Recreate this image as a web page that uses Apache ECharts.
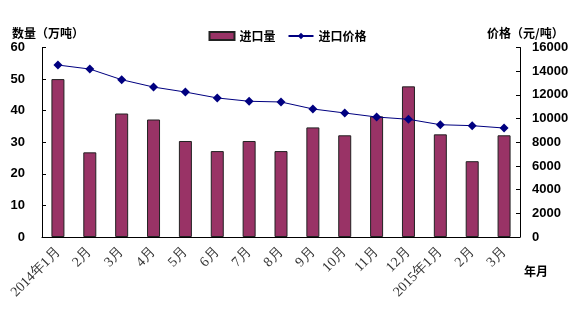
<!DOCTYPE html>
<html><head><meta charset="utf-8">
<script src="https://cdn.jsdelivr.net/npm/echarts@6/dist/echarts.min.js"></script>
<style>html,body{margin:0;padding:0;background:#fff}#c{width:575px;height:320px}</style>
</head><body><div id="c"></div>
<script>
var categories = ['2014年1月','2月','3月','4月','5月','6月','7月','8月','9月','10月','11月','12月','2015年1月','2月','3月'];
var importVolume = [50, 26.8, 39.1, 37.2, 30.4, 27.2, 30.4, 27.2, 34.7, 32.2, 38.2, 47.7, 32.5, 24.0, 32.2];
var importPrice = [14520, 14180, 13280, 12660, 12240, 11740, 11460, 11400, 10810, 10470, 10130, 9940, 9480, 9400, 9200];
var leftTicks = {min: 0, max: 60, interval: 10};
var rightTicks = {min: 0, max: 16000, interval: 2000};

var chart = echarts.init(document.getElementById('c'), null, {renderer: 'canvas'});
var cjk = '"Noto Sans CJK SC", sans-serif';
chart.setOption({
  animation: false,
  backgroundColor: '#fff',
  grid: {left: 42, right: 55, top: 47.5, bottom: 83, containLabel: false},
  legend: {
    top: 25, left: 'center', itemGap: 12,
    itemWidth: 25, itemHeight: 8,
    textStyle: {fontFamily: cjk, fontWeight: 'bold', fontSize: 12, color: '#000'},
    data: [{name: '进口量', icon: 'rect'}, {name: '进口价格'}]
  },
  graphic: [
    {type: 'text', left: 12, top: 27, style: {text: '数量（万吨）', font: 'bold 12px "Noto Sans CJK SC"', fill: '#000'}},
    {type: 'text', left: 487, top: 27, style: {text: '价格（元/吨）', font: 'bold 12px "Noto Sans CJK SC"', fill: '#000'}},
    {type: 'text', left: 524, top: 265, style: {text: '年月', font: 'bold 12px "Noto Sans CJK SC"', fill: '#000'}}
  ],
  xAxis: {
    type: 'category', data: categories, boundaryGap: true,
    axisLine: {lineStyle: {color: '#000', width: 1}},
    axisTick: {inside: true, length: 4, interval: 0, lineStyle: {color: '#000'}},
    axisLabel: {interval: 0, rotate: 45, margin: 13, fontFamily: '"Liberation Serif", serif', fontSize: 14, color: '#333'},
    splitLine: {show: false}
  },
  yAxis: [
    {type: 'value', min: leftTicks.min, max: leftTicks.max, interval: leftTicks.interval,
     axisLine: {show: true, lineStyle: {color: '#000'}},
     axisTick: {show: true, inside: true, length: 4, lineStyle: {color: '#000'}},
     axisLabel: {margin: 17, fontFamily: '"Liberation Sans", sans-serif', fontWeight: 'bold', fontSize: 13, color: '#000'},
     splitLine: {show: false}},
    {type: 'value', min: rightTicks.min, max: rightTicks.max, interval: rightTicks.interval, position: 'right',
     axisLine: {show: true, lineStyle: {color: '#000'}},
     axisTick: {show: true, inside: true, length: 4, lineStyle: {color: '#000'}},
     axisLabel: {margin: 12, fontFamily: '"Liberation Sans", sans-serif', fontWeight: 'bold', fontSize: 13, color: '#000',
       formatter: function (v) { return String(v); }},
     splitLine: {show: false}}
  ],
  series: [
    {name: '进口量', type: 'bar', yAxisIndex: 0, data: importVolume, barWidth: 13,
     itemStyle: {color: '#993366', borderColor: '#222', borderWidth: 1}},
    {name: '进口价格', type: 'line', yAxisIndex: 1, data: importPrice,
     symbol: 'diamond', symbolSize: 9,
     lineStyle: {color: '#000080', width: 1},
     itemStyle: {color: '#000080'}}
  ]
});
</script></body></html>
